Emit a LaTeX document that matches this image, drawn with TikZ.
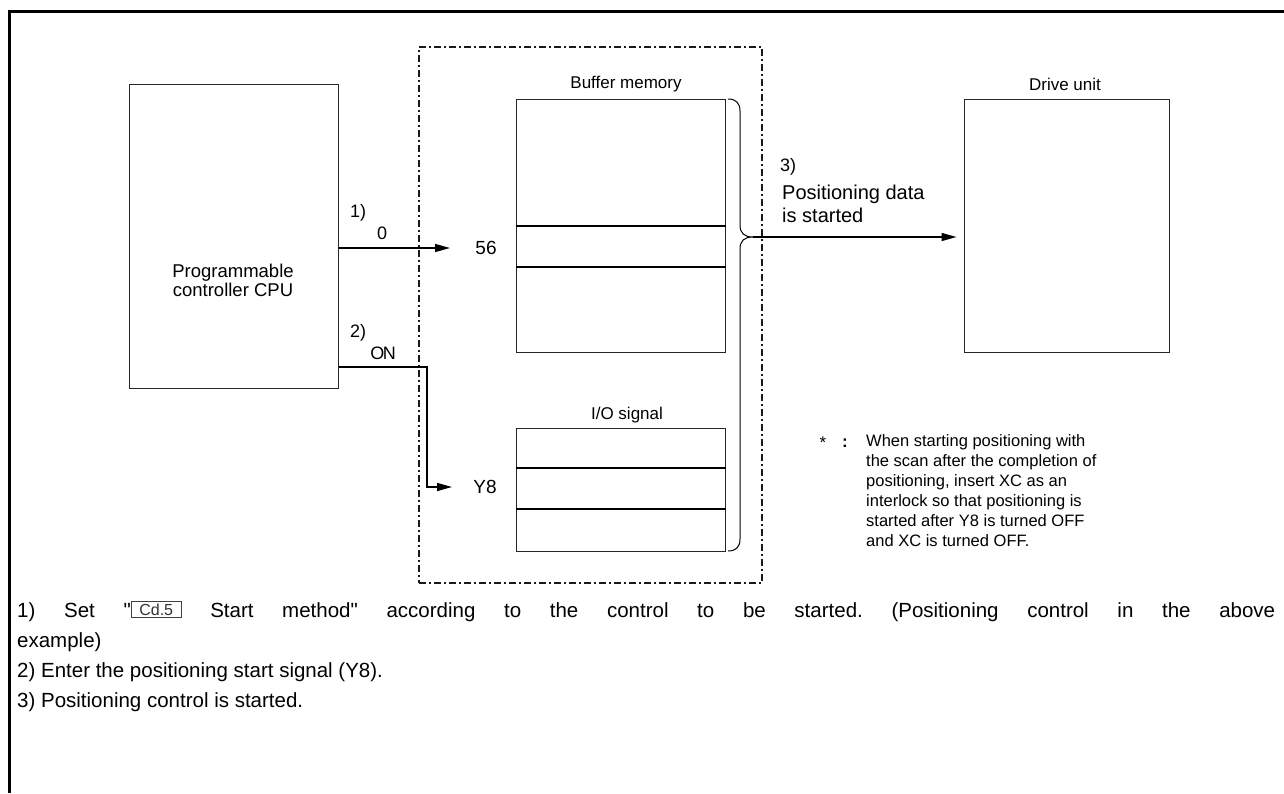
\documentclass[tikz,border=0pt]{standalone}
\usepackage{fontspec}
\setmainfont{Liberation Sans}[Ligatures=TeXOff]
\usepackage{tikz}
\usetikzlibrary{arrows.meta,positioning,calc}
\newcommand{\cdbox}[1]{\raisebox{2pt}{\setlength{\fboxsep}{2pt}\setlength{\fboxrule}{0.9pt}\fcolorbox{black!75}{white}{\makebox[45pt]{\color{black!80}\fontsize{16}{16}\selectfont #1}}}}
\tikzset{
  blk/.style={draw=black!85, line width=1pt, inner sep=0pt},
  txt/.style={inner sep=0pt, font=\fontsize{17}{20}\selectfont},
  big/.style={inner sep=0pt, font=\fontsize{20.5}{30}\selectfont},
  sig/.style={line width=1.4pt, -{Triangle[length=15pt,width=8pt]}},
  frame/.style={draw=black!90, line width=1.3pt, dash pattern=on 7pt off 3pt on 2pt off 3pt}
}
\begin{document}
\frenchspacing
\begin{tikzpicture}[x=1pt,y=-1pt]
  \useasboundingbox (0,0) rectangle (1284,793);
  % outer frame, top and left only
  \draw[line width=3pt] (1284,11) -- (9,11) -- (9,793);
  % module (dashed)
  \node[frame, minimum width=343, minimum height=536] (mod) at (590.5,315) {};
  % blocks
  \node[blk, minimum width=209, minimum height=304] (cpu) at (233.5,236) {};
  \node[txt, align=center, font=\fontsize{18.5}{19}\selectfont] (cpulbl) at (233,280) {Programmable\\controller CPU};
  \node[blk, minimum width=209, minimum height=253] (buf) at (620.5,225.5) {};
  \node[blk, minimum width=209, minimum height=123] (io) at (620.5,489.5) {};
  \node[blk, minimum width=205, minimum height=253] (drv) at (1066.5,225.5) {};
  \node[txt] (buflbl) at (626,84) {Buffer memory};
  \node[txt] (iolbl) at (627,415) {I/O signal};
  \node[txt] (drvlbl) at (1065,84) {Drive unit};
  % rows
  \draw[line width=1.2pt] (buf.west |- 0,226) -- (buf.east |- 0,226);
  \draw[line width=1.2pt] (buf.west |- 0,267) -- (buf.east |- 0,267);
  \draw[line width=1.2pt] (io.west |- 0,468) -- (io.east |- 0,468);
  \draw[line width=1.2pt] (io.west |- 0,509) -- (io.east |- 0,509);
  % 1) start method
  \coordinate (a1) at (450,248);
  \draw[sig] (cpu.east |- a1) -- (a1);
  \node[txt, font=\fontsize{18}{18}\selectfont] (n1) at (358,213) {1)};
  \node[txt, font=\fontsize{18}{18}\selectfont] (v1) at (382,233) {0};
  \node[txt, font=\fontsize{19}{19}\selectfont] (addr) at (486,248) {56};
  % 2) start signal
  \coordinate (a2) at (452,487);
  \draw[sig] (cpu.east |- 0,367) -- (427,367) |- (a2);
  \node[txt, font=\fontsize{18}{18}\selectfont] (n2) at (358,333) {2)};
  \node[txt, font=\fontsize{18}{18}\selectfont] (v2) at (383,353) {O\kern-1.5pt N};
  \node[txt, font=\fontsize{19}{19}\selectfont] (y8) at (485,487) {Y8};
  % brace
  \coordinate (tip) at (753,237);
  \draw[line width=1pt] (728,99) .. controls (736,99) and (740,103) .. (740,111) -- (740,225)
    .. controls (740,233) and (744,237) .. (tip)
    .. controls (744,237) and (740,241) .. (740,249) -- (740,539)
    .. controls (740,547) and (736,551) .. (728,551);
  % 3) positioning start
  \draw[sig, shorten >=7pt] (tip) -- (tip -| drv.west);
  \node[txt, font=\fontsize{18}{18}\selectfont, anchor=west] (n3) at (780,167) {3)};
  \node[txt, font=\fontsize{20}{23}\selectfont, anchor=north west, align=left] (n3t) at (782,185) {Positioning data\\is started};
  % note
  \node[txt] (star) at (823,443) {*};
  \node[txt, font=\bfseries\fontsize{17}{20}\selectfont] (colon) at (845,443) {:};
  \node[txt, anchor=north west, align=left, font=\fontsize{16.5}{20}\selectfont] (note) at (866,434)
    {When starting positioning with\\the scan after the completion of\\positioning, insert XC as an\\interlock so that positioning is\\started after Y8 is turned OFF\\and XC is turned OFF.};
  % explanation
  \node[big, anchor=west] (e1) at (17,611) {\makebox[1258pt][s]{1) Set "\cdbox{Cd.5} Start method" according to the control to be started. (Positioning control in the above}};
  \node[big, anchor=west] (e1b) at (17,642) {example)};
  \node[big, anchor=west] (e2) at (17,672) {2) Enter the positioning start signal (Y8).};
  \node[big, anchor=west] (e3) at (17,702) {3) Positioning control is started.};
\end{tikzpicture}
\end{document}
